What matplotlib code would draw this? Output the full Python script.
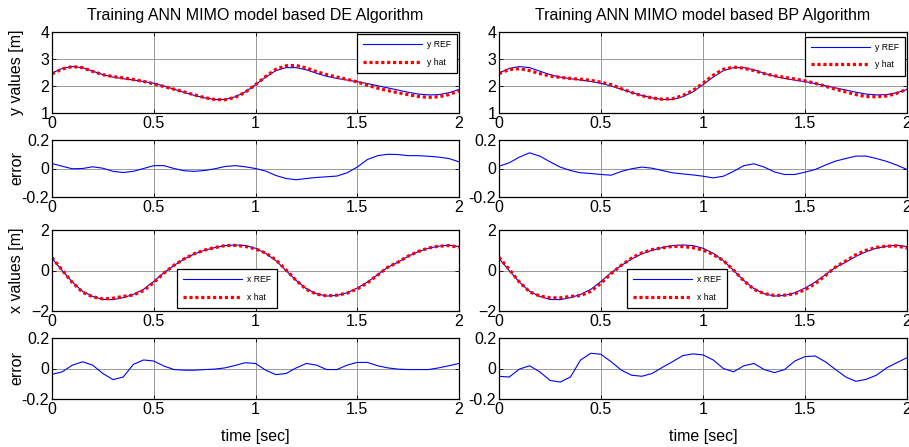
"""
Training ANN MIMO model: DE vs BP algorithm, y/x trajectories and errors
"""

import numpy as np
import matplotlib
matplotlib.use('Agg')
import matplotlib.pyplot as plt

# time samples (sec)
time = [0.0, 0.05, 0.1, 0.15, 0.2, 0.25, 0.3, 0.35, 0.4, 0.45,
        0.5, 0.55, 0.6, 0.65, 0.7, 0.75, 0.8, 0.85, 0.9, 0.95,
        1.0, 1.05, 1.1, 1.15, 1.2, 1.25, 1.3, 1.35, 1.4, 1.45,
        1.5, 1.55, 1.6, 1.65, 1.7, 1.75, 1.8, 1.85, 1.9, 1.95, 2.0]

# reference trajectory (same for both algorithms)
y_ref = [2.48, 2.65, 2.72, 2.68, 2.55, 2.42, 2.33, 2.27, 2.22, 2.17,
         2.10, 2.00, 1.88, 1.76, 1.65, 1.56, 1.50, 1.50, 1.60, 1.78,
         2.05, 2.33, 2.57, 2.68, 2.68, 2.60, 2.47, 2.36, 2.28, 2.22,
         2.16, 2.09, 2.01, 1.93, 1.85, 1.77, 1.70, 1.67, 1.68, 1.75, 1.87]
x_ref = [0.60, 0.00, -0.57, -1.03, -1.28, -1.43, -1.44, -1.34, -1.18, -0.93,
         -0.54, -0.11, 0.25, 0.57, 0.82, 1.00, 1.13, 1.23, 1.26, 1.23,
         1.10, 0.85, 0.49, 0.00, -0.49, -0.90, -1.15, -1.26, -1.23, -1.10,
         -0.87, -0.57, -0.21, 0.16, 0.41, 0.70, 0.93, 1.10, 1.20, 1.25, 1.18]

# DE model outputs and errors
y_hat_de = [2.45, 2.63, 2.72, 2.68, 2.54, 2.42, 2.35, 2.30, 2.24, 2.17,
            2.08, 1.98, 1.88, 1.78, 1.67, 1.57, 1.50, 1.49, 1.58, 1.77,
            2.05, 2.35, 2.62, 2.75, 2.76, 2.67, 2.53, 2.42, 2.33, 2.25,
            2.15, 2.03, 1.92, 1.83, 1.75, 1.68, 1.61, 1.58, 1.60, 1.68, 1.82]
y_err_de = [0.035, 0.016, -0.002, 0.0, 0.012, 0.002, -0.02, -0.028, -0.02, 0.0,
            0.02, 0.02, 0.0, -0.016, -0.02, -0.014, -0.002, 0.014, 0.02, 0.012,
            0.0, -0.018, -0.049, -0.07, -0.079, -0.07, -0.063, -0.058, -0.053, -0.03,
            0.01, 0.063, 0.09, 0.10, 0.098, 0.09, 0.09, 0.086, 0.08, 0.07, 0.047]
x_hat_de = [0.64, 0.02, -0.59, -1.07, -1.30, -1.40, -1.37, -1.28, -1.21, -0.99,
            -0.59, -0.13, 0.26, 0.58, 0.83, 1.01, 1.13, 1.23, 1.24, 1.19,
            1.07, 0.86, 0.53, 0.03, -0.49, -0.93, -1.17, -1.25, -1.22, -1.12,
            -0.91, -0.61, -0.23, 0.16, 0.41, 0.71, 0.94, 1.11, 1.20, 1.23, 1.15]
x_err_de = [-0.038, -0.022, 0.022, 0.044, 0.022, -0.033, -0.073, -0.056, 0.027, 0.056,
            0.049, 0.016, -0.007, -0.011, -0.011, -0.007, -0.004, 0.004, 0.02, 0.038,
            0.033, -0.011, -0.04, -0.033, 0.004, 0.033, 0.022, -0.007, -0.007, 0.022,
            0.04, 0.04, 0.018, 0.004, -0.004, -0.007, -0.007, -0.007, 0.004, 0.018, 0.033]

# BP model outputs and errors
y_hat_bp = [2.46, 2.61, 2.64, 2.57, 2.46, 2.37, 2.32, 2.28, 2.25, 2.21,
            2.14, 2.05, 1.90, 1.76, 1.64, 1.56, 1.51, 1.53, 1.64, 1.83,
            2.10, 2.40, 2.62, 2.70, 2.66, 2.57, 2.46, 2.38, 2.32, 2.26,
            2.19, 2.10, 1.99, 1.88, 1.78, 1.68, 1.61, 1.60, 1.63, 1.73, 1.88]
y_err_bp = [0.016, 0.04, 0.08, 0.11, 0.087, 0.047, 0.01, -0.014, -0.03, -0.035,
            -0.042, -0.047, -0.02, -0.002, 0.01, 0.002, -0.014, -0.03, -0.038, -0.045,
            -0.054, -0.066, -0.054, -0.02, 0.02, 0.033, 0.01, -0.024, -0.042, -0.042,
            -0.026, -0.007, 0.024, 0.052, 0.07, 0.087, 0.087, 0.07, 0.05, 0.024, -0.007]
x_hat_bp = [0.65, 0.06, -0.57, -1.05, -1.26, -1.35, -1.35, -1.28, -1.24, -1.03,
            -0.63, -0.15, 0.26, 0.61, 0.87, 1.03, 1.12, 1.19, 1.18, 1.13,
            1.01, 0.79, 0.49, 0.02, -0.51, -0.93, -1.14, -1.23, -1.22, -1.15,
            -0.95, -0.65, -0.25, 0.17, 0.47, 0.78, 1.00, 1.14, 1.20, 1.21, 1.11]
x_err_bp = [-0.051, -0.056, -0.004, 0.018, -0.022, -0.078, -0.089, -0.056, 0.056, 0.10,
            0.093, 0.044, -0.011, -0.044, -0.051, -0.033, 0.007, 0.044, 0.084, 0.096,
            0.089, 0.056, 0.0, -0.022, 0.018, 0.033, -0.007, -0.027, -0.007, 0.049,
            0.078, 0.082, 0.044, -0.007, -0.056, -0.084, -0.071, -0.044, 0.004, 0.038, 0.071]

TITLES = ['Training ANN MIMO model based DE Algorithm',
          'Training ANN MIMO model based BP Algorithm']

plt.rcParams['font.family'] = ['Liberation Sans', 'DejaVu Sans']

W, H = 909, 447
fig = plt.figure(figsize=(W / 100, H / 100), dpi=100)

# panel rectangles in pixels: (top, bottom)
rows = [(32, 113), (140, 197), (230, 311), (338, 399)]
cols = [(52, 459), (499, 907)]

BLUE = (0, 0, 1)
RED = (1, 0, 0)
FS = 11.5


def make_axes(col, row):
    left, right = cols[col]
    top, bottom = rows[row]
    ax = fig.add_axes([left / W, 1 - bottom / H, (right - left) / W, (bottom - top) / H])
    ax.set_xlim(0, 2)
    ax.set_xticks([0, 0.5, 1, 1.5, 2])
    ax.set_xticklabels(['0', '0.5', '1', '1.5', '2'])
    ax.tick_params(direction='in', length=3, width=0.6, labelsize=FS, pad=2,
                   top=True, right=True)
    ax.grid(True, color='0.6', linewidth=0.7)
    for sp in ax.spines.values():
        sp.set_linewidth(0.9)
    return ax


def add_legend(ax, labels, x1, y1):
    leg = ax.legend(labels, loc='upper right', bbox_to_anchor=(x1, y1),
                    fontsize=6.2, frameon=True, fancybox=False, framealpha=1,
                    edgecolor='k', borderpad=0.7, labelspacing=1.0,
                    handlelength=6.8, handletextpad=0.6, borderaxespad=0)
    leg.get_frame().set_linewidth(0.9)
    return leg


panels = [
    (y_ref, y_hat_de, y_err_de, x_ref, x_hat_de, x_err_de),
    (y_ref, y_hat_bp, y_err_bp, x_ref, x_hat_bp, x_err_bp),
]

for col, (yr, yh, ye, xr, xh, xe) in enumerate(panels):
    # y values
    ax = make_axes(col, 0)
    ax.plot(time, yr, color=BLUE, linewidth=0.8)
    ax.plot(time, yh, color=RED, linewidth=2.3, linestyle=(0, (1, 0.85)))
    ax.set_ylim(1, 4)
    ax.set_yticks([1, 2, 3, 4])
    ax.set_title(TITLES[col], fontsize=FS, pad=9)
    if col == 0:
        add_legend(ax, ['y REF', 'y hat'], 0.995, 0.975)
    else:
        add_legend(ax, ['y REF', 'y hat'], 0.995, 0.94)

    # y error
    ax = make_axes(col, 1)
    ax.plot(time, ye, color=BLUE, linewidth=0.8)
    ax.set_ylim(-0.2, 0.2)
    ax.set_yticks([-0.2, 0, 0.2])
    ax.set_yticklabels(['-0.2', '0', '0.2'])

    # x values
    ax = make_axes(col, 2)
    ax.plot(time, xr, color=BLUE, linewidth=0.8)
    ax.plot(time, xh, color=RED, linewidth=2.3, linestyle=(0, (1, 0.85)))
    ax.set_ylim(-2, 2)
    ax.set_yticks([-2, 0, 2])
    if col == 0:
        add_legend(ax, ['x REF', 'x hat'], 0.553, 0.52)
    else:
        add_legend(ax, ['x REF', 'x hat'], 0.559, 0.52)

    # x error
    ax = make_axes(col, 3)
    ax.plot(time, xe, color=BLUE, linewidth=0.8)
    ax.set_ylim(-0.2, 0.2)
    ax.set_yticks([-0.2, 0, 0.2])
    ax.set_yticklabels(['-0.2', '0', '0.2'])
    ax.set_xlabel('time [sec]', fontsize=FS, labelpad=9)

# y labels on the left column only
ylabels = ['y values [m]', 'error', 'x values [m]', 'error']
for row, text in enumerate(ylabels):
    top, bottom = rows[row]
    fig.text(17 / W, 1 - (top + bottom) / 2 / H, text, rotation=90,
             ha='center', va='center', fontsize=FS)

fig.savefig('out.png', dpi=100)
